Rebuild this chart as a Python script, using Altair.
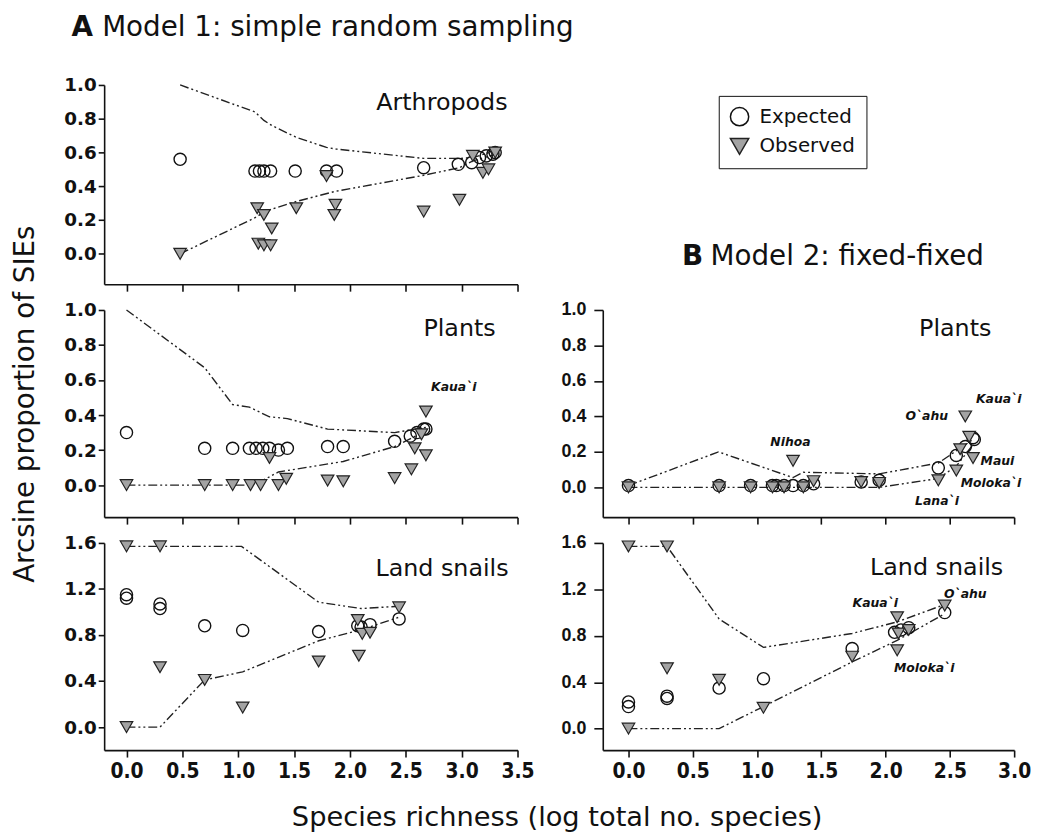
import altair as alt
import pandas as pd

# ---------------- text ----------------
TITLE_A = ["A", "Model 1: simple random sampling"]
TITLE_B = ["B", "Model 2: fixed-fixed"]
Y_TITLE = ["Arcsine proportion of SIEs"]
X_TITLE = ["Species richness (log total no. species)"]
LEGEND_LABELS = ["Expected", "Observed"]
PANEL_NAMES = ["Arthropods", "Plants", "Land snails", "Plants", "Land snails"]

X_TICKS_A = [0.0, 0.5, 1.0, 1.5, 2.0, 2.5, 3.0, 3.5]
X_TICKS_B = [0.0, 0.5, 1.0, 1.5, 2.0, 2.5, 3.0]
Y_TICKS_10 = [0.0, 0.2, 0.4, 0.6, 0.8, 1.0]
Y_TICKS_16 = [0.0, 0.4, 0.8, 1.2, 1.6]

# ---------------- Model 1: Arthropods ----------------
ARTH_EXP_X = [0.48, 1.15, 1.19, 1.23, 1.29, 1.51, 1.79, 1.88, 2.66, 2.97, 3.09, 3.16, 3.22, 3.28, 3.30]
ARTH_EXP_Y = [0.56, 0.49, 0.49, 0.49, 0.49, 0.49, 0.49, 0.49, 0.51, 0.53, 0.54, 0.57, 0.58, 0.59, 0.60]
ARTH_OBS_X = [0.48, 1.17, 1.23, 1.30, 1.18, 1.23, 1.29, 1.52, 1.79, 1.87, 1.86, 2.66, 2.98, 3.10, 3.19, 3.24, 3.30]
ARTH_OBS_Y = [0.0, 0.27, 0.23, 0.15, 0.06, 0.05, 0.05, 0.27, 0.46, 0.29, 0.23, 0.25, 0.32, 0.58, 0.48, 0.50, 0.60]
ARTH_UP_X = [0.48, 1.15, 1.23, 1.30, 1.52, 1.79, 1.88, 2.66, 2.98, 3.10, 3.30]
ARTH_UP_Y = [1.0, 0.84, 0.79, 0.76, 0.69, 0.63, 0.62, 0.565, 0.565, 0.57, 0.61]
ARTH_LO_X = [0.48, 1.17, 1.23, 1.52, 1.87, 2.66, 2.98, 3.10, 3.30]
ARTH_LO_Y = [0.0, 0.22, 0.25, 0.31, 0.37, 0.465, 0.51, 0.55, 0.59]

# ---------------- Model 1: Plants ----------------
PL1_EXP_X = [0.0, 0.70, 0.95, 1.10, 1.16, 1.22, 1.28, 1.36, 1.44, 1.80, 1.94, 2.40, 2.54, 2.60, 2.66, 2.68]
PL1_EXP_Y = [0.30, 0.21, 0.21, 0.21, 0.21, 0.21, 0.21, 0.20, 0.21, 0.22, 0.22, 0.25, 0.28, 0.30, 0.32, 0.32]
PL1_OBS_X = [0.0, 0.70, 0.95, 1.11, 1.20, 1.28, 1.36, 1.43, 1.80, 1.94, 2.40, 2.55, 2.58, 2.64, 2.68, 2.68]
PL1_OBS_Y = [0.0, 0.0, 0.0, 0.0, 0.0, 0.155, 0.0, 0.036, 0.026, 0.022, 0.04, 0.09, 0.21, 0.29, 0.42, 0.17]
PL1_UP_X = [0.0, 0.70, 0.95, 1.10, 1.28, 1.44, 1.80, 2.40, 2.68]
PL1_UP_Y = [1.0, 0.67, 0.46, 0.445, 0.39, 0.38, 0.32, 0.30, 0.33]
PL1_LO_X = [0.0, 1.10, 1.20, 1.36, 1.94, 2.40, 2.68]
PL1_LO_Y = [0.0, 0.0, 0.02, 0.075, 0.135, 0.22, 0.31]
PL1_LAB = ["Kaua`i"]
PL1_LAB_X = [2.93]
PL1_LAB_Y = [0.56]

# ---------------- Model 1: Land snails ----------------
SN1_EXP_X = [0.0, 0.0, 0.30, 0.30, 0.70, 1.04, 1.72, 2.07, 2.10, 2.18, 2.44]
SN1_EXP_Y = [1.15, 1.12, 1.07, 1.03, 0.88, 0.84, 0.83, 0.88, 0.87, 0.89, 0.94]
SN1_OBS_X = [0.0, 0.30, 0.0, 0.30, 0.70, 1.04, 1.72, 2.08, 2.07, 2.11, 2.18, 2.44]
SN1_OBS_Y = [1.57, 1.57, 0.0, 0.52, 0.41, 0.17, 0.57, 0.62, 0.93, 0.81, 0.82, 1.04]
SN1_UP_X = [0.0, 0.30, 1.03, 1.72, 2.10, 2.44]
SN1_UP_Y = [1.57, 1.57, 1.57, 1.085, 1.03, 1.05]
SN1_LO_X = [0.0, 0.30, 0.70, 1.04, 1.72, 2.10, 2.44]
SN1_LO_Y = [0.0, 0.0, 0.41, 0.48, 0.75, 0.845, 0.955]

# ---------------- Model 2: Plants ----------------
PL2_EXP_X = [0.0, 0.705, 0.95, 1.12, 1.15, 1.21, 1.28, 1.36, 1.44, 1.81, 1.95, 2.41, 2.55, 2.62, 2.68, 2.69]
PL2_EXP_Y = [0.01, 0.01, 0.01, 0.01, 0.01, 0.01, 0.01, 0.01, 0.02, 0.03, 0.04, 0.11, 0.18, 0.23, 0.28, 0.27]
PL2_OBS_X = [0.0, 0.705, 0.95, 1.12, 1.21, 1.28, 1.36, 1.44, 1.81, 1.95, 2.41, 2.55, 2.58, 2.62, 2.65, 2.68]
PL2_OBS_Y = [0.0, 0.0, 0.0, 0.0, 0.0, 0.15, 0.0, 0.035, 0.03, 0.025, 0.04, 0.095, 0.215, 0.40, 0.285, 0.165]
PL2_UP_X = [0.0, 0.70, 1.28, 1.36, 1.95, 2.41, 2.68]
PL2_UP_Y = [0.01, 0.20, 0.055, 0.085, 0.076, 0.137, 0.27]
PL2_LO_X = [0.0, 1.95, 2.41, 2.55, 2.68]
PL2_LO_Y = [0.0, 0.0, 0.05, 0.12, 0.24]
PL2_LAB = ["Nihoa", "O`ahu", "Kaua`i", "Maui", "Moloka`i", "Lana`i"]
PL2_LAB_X = [1.26, 2.32, 2.88, 2.87, 2.82, 2.40]
PL2_LAB_Y = [0.257, 0.40, 0.50, 0.146, 0.026, -0.076]

# ---------------- Model 2: Land snails ----------------
SN2_EXP_X = [0.0, 0.0, 0.30, 0.30, 0.705, 1.05, 1.74, 2.07, 2.12, 2.18, 2.46]
SN2_EXP_Y = [0.23, 0.19, 0.28, 0.26, 0.35, 0.43, 0.69, 0.83, 0.85, 0.87, 1.00]
SN2_OBS_X = [0.0, 0.30, 0.0, 0.30, 0.705, 1.05, 1.74, 2.09, 2.10, 2.18, 2.09, 2.46]
SN2_OBS_Y = [1.57, 1.57, 0.0, 0.52, 0.42, 0.18, 0.62, 0.96, 0.82, 0.85, 0.675, 1.06]
SN2_UP_X = [0.0, 0.30, 0.705, 1.05, 1.74, 2.09, 2.46]
SN2_UP_Y = [1.57, 1.57, 0.945, 0.70, 0.82, 0.92, 1.07]
SN2_LO_X = [0.0, 0.705, 1.05, 1.74, 2.09, 2.46]
SN2_LO_Y = [0.0, 0.0, 0.19, 0.575, 0.76, 0.99]
SN2_LAB = ["Kaua`i", "O`ahu", "Moloka`i"]
SN2_LAB_X = [1.92, 2.62, 2.30]
SN2_LAB_Y = [1.08, 1.16, 0.52]

# ---------------- styling ----------------
INK = "#111111"
FONT = "DejaVu Sans"
XLAB_FONT = "Liberation Sans Narrow, DejaVu Sans Condensed, Liberation Sans"
TRI_FILL = "#a3a3a3"
DASH = [9, 3, 2, 3, 2, 3]

W_L, W_R = 417, 415
H1, H2, H3 = 201, 209, 209


def pts(xs, ys):
    return pd.DataFrame({"x": xs, "y": ys})


def bounds_df(ux, uy, lx, ly):
    up = pd.DataFrame({"x": ux, "y": uy, "bound": "upper", "i": range(len(ux))})
    lo = pd.DataFrame({"x": lx, "y": ly, "bound": "lower", "i": range(len(lx))})
    return pd.concat([up, lo], ignore_index=True)


def one(text):
    return pd.DataFrame({"t": [text]})


def panel(exp_x, exp_y, obs_x, obs_y, up_x, up_y, lo_x, lo_y,
          xdom, xticks, ydom, yticks, w, h, name, name_x, name_y,
          show_xlab, yfont, yfsize, ypad, ytick,
          lab=None, extra=()):
    xs = alt.Scale(domain=xdom, nice=False, zero=False)
    ys = alt.Scale(domain=ydom, nice=False, zero=False)
    xa = alt.Axis(values=xticks, format=".1f", labels=show_xlab, title=None, grid=False,
                  domainColor=INK, domainWidth=1.6, tickColor=INK, tickWidth=1.6, tickSize=7,
                  labelFont=XLAB_FONT, labelFontSize=21, labelFontWeight="bold",
                  labelColor=INK, labelPadding=4,
                  labelFlush=False, labelOverlap=False)
    ya = alt.Axis(values=yticks, format=".1f", title=None, grid=False,
                  domainColor=INK, domainWidth=1.6, tickColor=INK, tickWidth=1.6, tickSize=ytick,
                  labelFont=yfont, labelFontSize=yfsize, labelFontWeight="bold", labelColor=INK,
                  labelPadding=ypad, labelFlush=False, labelOverlap=False)
    X = alt.X("x:Q", scale=xs, axis=xa)
    Y = alt.Y("y:Q", scale=ys, axis=ya)
    lines = alt.Chart(bounds_df(up_x, up_y, lo_x, lo_y)).mark_line(
        color="#222222", strokeWidth=1.4, strokeDash=DASH
    ).encode(x=X, y=Y, detail="bound:N", order="i:Q")
    exp = alt.Chart(pts(exp_x, exp_y)).mark_point(
        shape="circle", filled=False, stroke=INK, strokeWidth=1.4, size=150, opacity=1
    ).encode(x=X, y=Y)
    obs = alt.Chart(pts(obs_x, obs_y)).mark_point(
        shape="triangle-down", filled=True, fill=TRI_FILL, stroke="#222222", strokeWidth=1.2,
        size=160, opacity=1
    ).encode(x=X, y=Y)
    layers = [lines, exp, obs]
    if lab is not None:
        t, lx, ly = lab
        layers.append(
            alt.Chart(pd.DataFrame({"x": lx, "y": ly, "t": t})).mark_text(
                font=FONT, fontSize=12.5, fontWeight="bold", fontStyle="italic",
                color=INK, align="center", baseline="middle"
            ).encode(x=X, y=Y, text="t:N")
        )
    layers.append(
        alt.Chart(one(name)).mark_text(
            font=FONT, fontSize=24, color=INK, align="right", baseline="alphabetic"
        ).encode(x=alt.value(name_x), y=alt.value(name_y), text="t:N")
    )
    layers.extend(extra)
    return alt.layer(*layers).properties(width=w, height=h)


def label_text(text, x, y, size, weight="normal", align="left", angle=0):
    kw = dict(font=FONT, fontSize=size, fontWeight=weight, color=INK,
              align=align, baseline="alphabetic")
    if angle:
        kw["angle"] = angle
    return alt.Chart(one(text)).mark_text(**kw).encode(
        x=alt.value(x), y=alt.value(y), text="t:N")


# anchor that fixes the top-left corner of the drawing (white, invisible)
anchor = alt.Chart(one("")).mark_rect(color="white").encode(
    x=alt.value(-97), x2=alt.value(-96), y=alt.value(-74), y2=alt.value(-73))

arth = panel(ARTH_EXP_X, ARTH_EXP_Y, ARTH_OBS_X, ARTH_OBS_Y, ARTH_UP_X, ARTH_UP_Y, ARTH_LO_X, ARTH_LO_Y,
             [-0.2, 3.5], X_TICKS_A, [-0.18, 1.0], Y_TICKS_10, W_L, H1,
             PANEL_NAMES[0], 407, 25, False, FONT, 18.5, 2, 6,
             extra=[anchor,
                    label_text(TITLE_A[0], -33, -49, 28, weight="bold"),
                    label_text(TITLE_A[1], -2, -49, 28)])

pl1 = panel(PL1_EXP_X, PL1_EXP_Y, PL1_OBS_X, PL1_OBS_Y, PL1_UP_X, PL1_UP_Y, PL1_LO_X, PL1_LO_Y,
            [-0.2, 3.5], X_TICKS_A, [-0.183, 1.0], Y_TICKS_10, W_L, H2,
            PANEL_NAMES[1], 395, 26, False, FONT, 18.5, 2, 6,
            lab=(PL1_LAB, PL1_LAB_X, PL1_LAB_Y),
            extra=[label_text(Y_TITLE[0], -71, 95, 28, align="center", angle=270)])

sn1 = panel(SN1_EXP_X, SN1_EXP_Y, SN1_OBS_X, SN1_OBS_Y, SN1_UP_X, SN1_UP_Y, SN1_LO_X, SN1_LO_Y,
            [-0.2, 3.5], X_TICKS_A, [-0.2, 1.6], Y_TICKS_16, W_L, H3,
            PANEL_NAMES[2], 408, 33, True, FONT, 18.5, 2, 6,
            extra=[label_text(X_TITLE[0], 457, 286, 27.5, align="center")])

pl2 = panel(PL2_EXP_X, PL2_EXP_Y, PL2_OBS_X, PL2_OBS_Y, PL2_UP_X, PL2_UP_Y, PL2_LO_X, PL2_LO_Y,
            [-0.2, 3.0], X_TICKS_B, [-0.168, 1.0], Y_TICKS_10, W_R, H2,
            PANEL_NAMES[3], 392, 26, False, "Liberation Sans", 18, 8, 9,
            lab=(PL2_LAB, PL2_LAB_X, PL2_LAB_Y))

sn2 = panel(SN2_EXP_X, SN2_EXP_Y, SN2_OBS_X, SN2_OBS_Y, SN2_UP_X, SN2_UP_Y, SN2_LO_X, SN2_LO_Y,
            [-0.2, 3.0], X_TICKS_B, [-0.185, 1.6], Y_TICKS_16, W_R, H3,
            PANEL_NAMES[4], 404, 32, True, "Liberation Sans", 18, 8, 9,
            lab=(SN2_LAB, SN2_LAB_X, SN2_LAB_Y))

# legend cell (top right)
LEG = alt.Legend(title=None, orient="none", legendX=117, legendY=11,
                 strokeColor=INK, padding=11, cornerRadius=0,
                 labelFont=FONT, labelFontSize=20, labelColor=INK, labelOffset=10,
                 symbolSize=340, symbolStrokeWidth=1.5,
                 rowPadding=6, labelLimit=0)
legend_layer = alt.Chart(pd.DataFrame({"type": LEGEND_LABELS})).transform_filter("false").mark_point(
    filled=True, size=340, strokeWidth=1.5, opacity=1
).encode(
    x=alt.value(0), y=alt.value(0),
    shape=alt.Shape("type:N", scale=alt.Scale(domain=LEGEND_LABELS, range=["circle", "triangle-down"]), legend=LEG),
    fill=alt.Fill("type:N", scale=alt.Scale(domain=LEGEND_LABELS, range=["white", TRI_FILL]), legend=LEG),
    stroke=alt.Stroke("type:N", scale=alt.Scale(domain=LEGEND_LABELS, range=[INK, "#222222"]), legend=LEG),
)
top_right = alt.layer(
    legend_layer,
    label_text(TITLE_B[0], 80, 182, 28, weight="bold"),
    label_text(TITLE_B[1], 108.7, 182, 28),
).properties(width=W_R, height=H1)

chart = alt.concat(
    arth, top_right, pl1, pl2, sn1, sn2,
    columns=2, spacing={"row": 26, "column": 86}, bounds="flush", padding=0,
    background="white",
).resolve_scale(shape="independent", fill="independent", stroke="independent").resolve_legend(
    shape="independent", fill="independent", stroke="independent"
).configure_view(stroke=None)

chart.save("out.html", embed_options={"renderer": "svg", "actions": False})
